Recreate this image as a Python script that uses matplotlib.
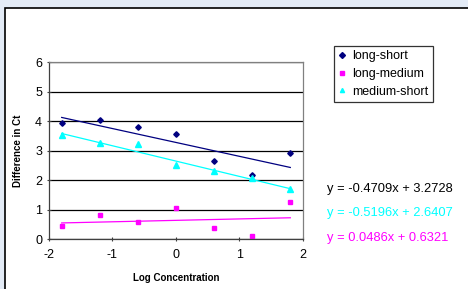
import numpy as np
import matplotlib.pyplot as plt
from matplotlib.patches import Rectangle

plt.rcParams['font.family'] = ['Liberation Sans', 'DejaVu Sans']
plt.rcParams['axes.unicode_minus'] = False

x = [-1.8, -1.2, -0.6, 0.0, 0.6, 1.2, 1.8]
long_short = [3.92, 4.05, 3.78, 3.55, 2.66, 2.16, 2.92]
long_medium = [0.43, 0.83, 0.57, 1.06, 0.38, 0.11, 1.25]
medium_short = [3.51, 3.24, 3.22, 2.50, 2.30, 2.06, 1.70]

# trendline coefficients as printed on the chart (slope, intercept)
fit_ls = (-0.4709, 3.2728)
fit_ms = (-0.5196, 2.6407)
fit_lm = (0.0486, 0.6321)

fig = plt.figure(figsize=(4.68, 2.89), dpi=100)
fig.patch.set_facecolor('#e3ebf6')
# white chart area with black top/left border, runs off right and bottom
fig.patches.append(Rectangle((5/468, -0.1), 1.1, 1.1 - 8/289, transform=fig.transFigure,
                             facecolor='white', edgecolor='black', linewidth=1.2, zorder=-1))

ax = fig.add_axes([49/468, 1 - 239/289, (303 - 49)/468, (239 - 62)/289])
ax.set_xlim(-2, 2)
ax.set_ylim(0, 6)
ax.set_xticks([-2, -1, 0, 1, 2])
ax.set_yticks(range(0, 7))
ax.yaxis.grid(True, color='black', linewidth=0.9)
ax.set_axisbelow(True)
for s in ax.spines.values():
    s.set_color('#808080')
    s.set_linewidth(0.9)
ax.spines['left'].set_color('#404040')
ax.spines['bottom'].set_color('#404040')
ax.tick_params(axis='both', labelsize=9, length=3, width=0.8, color='#404040', direction='inout')
ax.tick_params(axis='x', pad=6)

xs = np.array([-1.8, 1.8])
ax.plot(x, long_short, linestyle='none', marker='D', markersize=2.8, color='#000080', label='long-short')
ax.plot(x, long_medium, linestyle='none', marker='s', markersize=3.2, color='#ff00ff', label='long-medium')
ax.plot(x, medium_short, linestyle='none', marker='^', markersize=3.8, color='#00ffff', label='medium-short')
ax.plot(xs, fit_ls[0]*xs + fit_ls[1], color='#000080', linewidth=0.9)
ax.plot(xs, fit_ms[0]*xs + fit_ms[1], color='#00ffff', linewidth=0.9)
ax.plot(xs, fit_lm[0]*xs + fit_lm[1], color='#ff00ff', linewidth=0.9)

ax.set_xlabel('Log Concentration', fontsize=7, fontweight='bold', labelpad=8)
ax.set_ylabel('Difference in Ct', fontsize=7, fontweight='bold', labelpad=9)

leg = fig.legend(loc='upper left', bbox_to_anchor=(334/468, 1 - 46/289), fontsize=9,
                 frameon=True, fancybox=False, edgecolor='black', handlelength=0.5,
                 handletextpad=0.6, borderpad=0.35, labelspacing=0.45, borderaxespad=0)
leg.get_frame().set_linewidth(0.9)
for h in leg.legend_handles:
    h.set_markersize(3)

fig.text(327/468, 1 - 189/289, 'y = -0.4709x + 3.2728', fontsize=9.3, color='black', va='center')
fig.text(327/468, 1 - 213/289, 'y = -0.5196x + 2.6407', fontsize=9.3, color='#00ffff', va='center')
fig.text(327/468, 1 - 238/289, 'y = 0.0486x + 0.6321', fontsize=9.3, color='#ff00ff', va='center')

fig.savefig('out.png', dpi=100, facecolor=fig.get_facecolor())
